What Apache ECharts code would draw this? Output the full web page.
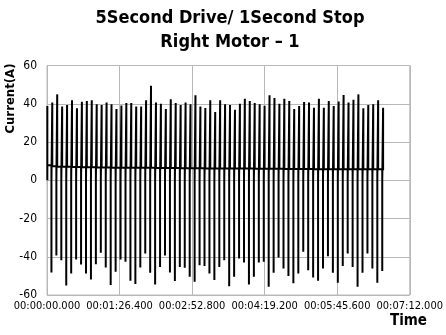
<!DOCTYPE html>
<html>
<head>
<meta charset="utf-8">
<script src="https://cdn.jsdelivr.net/npm/echarts@6/dist/echarts.min.js"></script>
<style>
  html, body { margin: 0; padding: 0; background: #fff; }
  #main { width: 446px; height: 335px; }
</style>
</head>
<body>
<div id="main"></div>
<script>
// timing of the drive cycle (seconds)
const T0 = 0.4
const DRIVE_S = 4.88
const STOP_S = 1.0
const LAST_DRIVE_S = 1.2

// inrush peak at each drive start (A)
const startPeaks = [
  38.8, 40.6, 44.9, 38.6, 39.3, 41.8, 37.6, 41.1, 41.4, 41.8,
  39.7, 39.3, 40.6, 39.7, 37.2, 39.1, 40.4, 40.4, 38.6, 38.6,
  41.8, 49.4, 40.6, 40.0, 37.2, 42.3, 40.4, 39.3, 40.6, 39.7,
  44.4, 38.6, 37.8, 41.8, 35.7, 41.8, 39.7, 39.3, 36.9, 40.0,
  42.6, 41.4, 40.4, 39.7, 38.9, 44.4, 43.0, 40.0, 42.6, 41.4,
  37.2, 38.8, 40.9, 40.6, 37.9, 42.6, 37.9, 41.4, 38.8, 41.2,
  44.6, 40.6, 42.1, 44.9, 37.6, 39.3, 39.7, 41.8, 37.9
]

// reverse peak when the drive stops (A)
const stopPeaks = [
  -48.2, -39.3, -41.8, -55.0, -48.7, -41.4, -44.0, -48.7, -51.9, -43.9,
  -37.9, -45.6, -54.8, -47.9, -41.4, -42.6, -52.6, -54.3, -45.6, -38.3,
  -48.4, -54.5, -45.4, -39.3, -48.2, -52.7, -45.3, -45.8, -50.5, -53.1,
  -44.4, -44.9, -48.7, -52.2, -45.3, -41.8, -55.4, -50.5, -40.9, -43.0,
  -54.5, -50.5, -43.0, -42.6, -55.7, -48.4, -40.4, -46.1, -50.1, -53.9,
  -48.7, -37.4, -47.0, -50.8, -52.6, -46.1, -39.7, -48.4, -53.6, -44.9,
  -38.3, -45.3, -55.7, -48.4, -38.3, -46.1, -53.6, -47.4
]

// running current during each drive (A)
const runCurrent = [
  7.8, 7.3, 7.1, 7.0, 7.0, 6.9, 6.9, 6.8, 6.8, 6.8,
  6.7, 6.7, 6.7, 6.6, 6.6, 6.6, 6.6, 6.5, 6.5, 6.5,
  6.5, 6.5, 6.4, 6.4, 6.4, 6.4, 6.4, 6.3, 6.3, 6.3,
  6.3, 6.3, 6.2, 6.2, 6.2, 6.2, 6.2, 6.1, 6.1, 6.1,
  6.1, 6.1, 6.0, 6.0, 6.0, 6.0, 6.0, 6.0, 5.9, 5.9,
  5.9, 5.9, 5.9, 5.9, 5.8, 5.8, 5.8, 5.8, 5.8, 5.8,
  5.8, 5.7, 5.7, 5.7, 5.7, 5.7, 5.7, 5.7, 5.7
]

const yTicks = [-60, -40, -20, 0, 20, 40, 60]
const xMax = 432
const xInterval = 86.4

const fontNarrow = "'Liberation Sans Narrow', 'DejaVu Sans Condensed', sans-serif"

// build the time trace from the cycle table
const trace = []
startPeaks.forEach((peak, i) => {
  const t = T0 + i * (DRIVE_S + STOP_S)
  const last = i === startPeaks.length - 1
  trace.push([t, 0])
  trace.push([t, peak])
  trace.push([t, runCurrent[i]])
  if (last) {
    trace.push([t + LAST_DRIVE_S, runCurrent[i]])
  } else {
    trace.push([t + DRIVE_S, runCurrent[i]])
    trace.push([t + DRIVE_S, stopPeaks[i]])
    trace.push([t + DRIVE_S, 0])
  }
})

const pad = (n, w) => String(n).padStart(w, '0')
const fmtTime = (v) => {
  const ms = Math.round(v * 1000)
  const h = Math.floor(ms / 3600000)
  const m = Math.floor(ms / 60000) % 60
  const s = Math.floor(ms / 1000) % 60
  return pad(h, 2) + ':' + pad(m, 2) + ':' + pad(s, 2) + '.' + pad(ms % 1000, 3)
}

const chart = echarts.init(document.getElementById('main'), null, {renderer: 'canvas'})
let option = {
  animation: false,
  backgroundColor: '#fff',
  title: {
    text: '5Second Drive/ 1Second Stop\nRight Motor – 1',
    left: 230,
    top: 6,
    padding: 0,
    textAlign: 'center',
    textStyle: {
      fontFamily: fontNarrow,
      fontWeight: 'bold',
      fontSize: 18,
      lineHeight: 24,
      color: '#000'
    }
  },
  graphic: [
    {
      // x axis name, sits under the last tick label
      type: 'text',
      right: 19,
      top: 314,
      style: {
        text: 'Time',
        fontFamily: fontNarrow,
        fontWeight: 'bold',
        fontSize: 15,
        fill: '#000'
      }
    }
  ],
  grid: {
    left: 47,
    right: 33,
    top: 65.5,
    bottom: 40,
    show: true,
    borderColor: '#b8b8b8',
    borderWidth: 1
  },
  xAxis: {
    type: 'value',
    min: 0,
    max: xMax,
    interval: xInterval,
    axisLine: {show: true, lineStyle: {color: '#b8b8b8'}},
    axisTick: {show: false},
    axisLabel: {
      margin: 6,
      showMinLabel: true,
      showMaxLabel: true,
      hideOverlap: false,
      fontFamily: fontNarrow,
      fontSize: 11,
      color: '#000',
      formatter: fmtTime
    },
    splitLine: {show: true, lineStyle: {color: '#b8b8b8', width: 1}}
  },
  yAxis: {
    type: 'value',
    min: yTicks[0],
    max: yTicks[yTicks.length - 1],
    interval: 20,
    name: 'Current(A)',
    nameLocation: 'end',
    nameRotate: 90,
    nameGap: 2,
    nameMoveOverlap: false,
    nameTextStyle: {
      fontFamily: fontNarrow,
      fontWeight: 'bold',
      fontSize: 13,
      color: '#000',
      align: 'right',
      verticalAlign: 'bottom',
      padding: [0, 0, 30, 0]
    },
    axisLine: {show: true, lineStyle: {color: '#b8b8b8'}},
    axisTick: {show: false},
    axisLabel: {
      margin: 10,
      showMinLabel: true,
      showMaxLabel: true,
      fontFamily: fontNarrow,
      fontSize: 12,
      color: '#000'
    },
    splitLine: {show: true, lineStyle: {color: '#b8b8b8', width: 1}}
  },
  series: [
    {
      name: 'Current',
      type: 'line',
      data: trace,
      showSymbol: false,
      symbol: 'none',
      sampling: null,
      lineStyle: {color: '#000', width: 2},
      itemStyle: {color: '#000'}
    }
  ]
}
chart.setOption(option)
</script>
</body>
</html>
